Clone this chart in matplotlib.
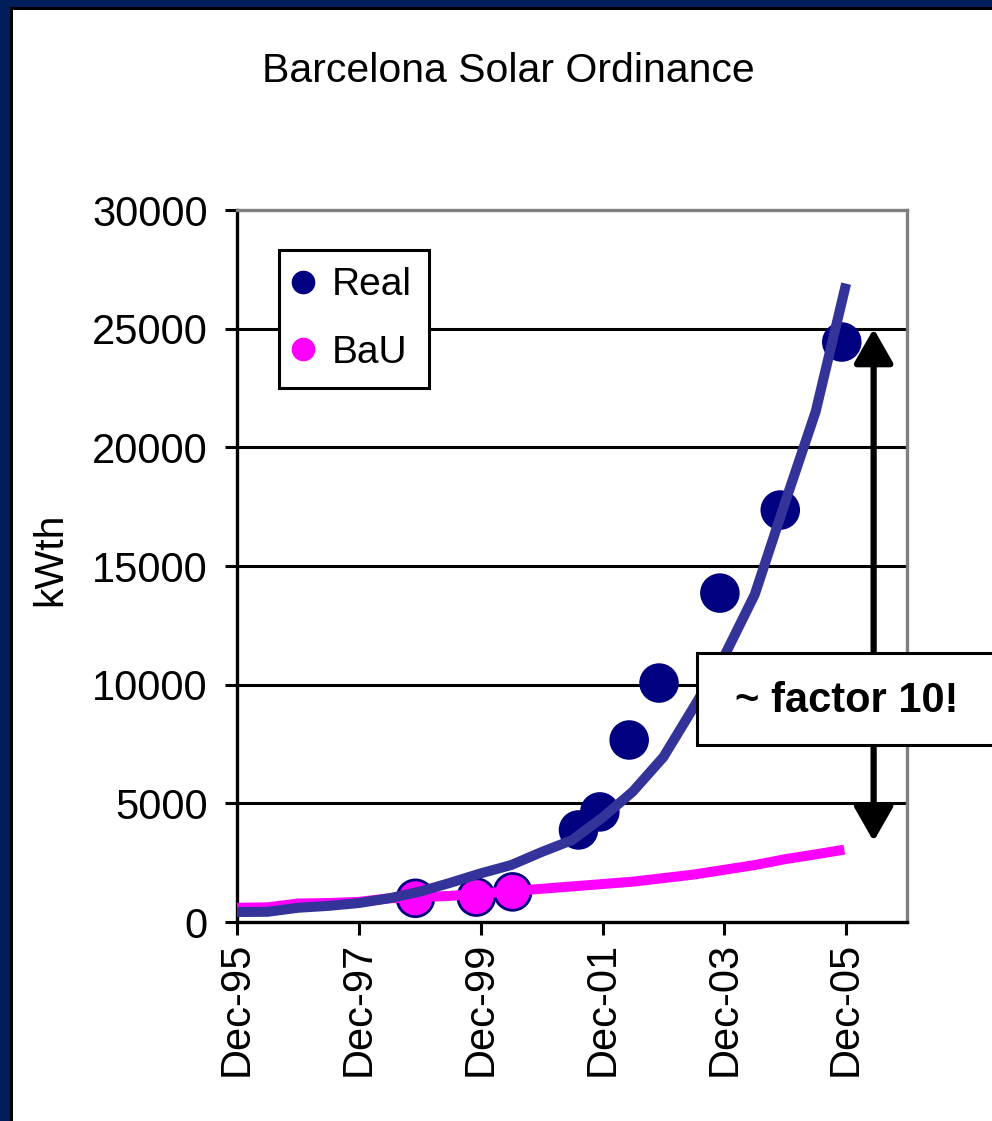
from datetime import datetime

import matplotlib
matplotlib.use("Agg")
import matplotlib.pyplot as plt
import matplotlib.dates as mdates
from matplotlib.lines import Line2D
from matplotlib.patches import Rectangle

plt.rcParams["font.family"] = ["Liberation Sans", "DejaVu Sans"]

# measured installations (kWth)
real_dates = ["1998-11-05", "1999-11-05", "2000-06-10", "2001-07-10", "2001-11-15",
              "2002-05-10", "2002-11-05", "2003-11-05", "2004-11-01", "2005-11-05"]
real_values = [1000, 1050, 1270, 3880, 4640, 7670, 10070, 13860, 17360, 24440]
# the first three points sit on the BaU curve
real_faces = ["#ff00ff", "#ff00ff", "#ff00ff"] + ["#000080"] * 7

# trend of the real installations
trend_dates = ["1995-12-01", "1996-06-01", "1996-12-01", "1997-06-01", "1997-12-01",
               "1998-06-01", "1998-12-01", "1999-06-01", "1999-12-01", "2000-06-01",
               "2000-12-01", "2001-06-01", "2001-12-01", "2002-06-01", "2002-12-01",
               "2003-06-01", "2003-12-01", "2004-06-01", "2004-12-01", "2005-06-01",
               "2005-12-01"]
trend_values = [420, 430, 600, 680, 800, 1000, 1280, 1650, 2050, 2400, 2950, 3450,
                4400, 5500, 6950, 9050, 11200, 13800, 17700, 21500, 26900]

# business as usual
bau_dates = ["1995-12-01", "1996-06-01", "1996-12-01", "1997-06-01", "1997-12-01",
             "1998-06-01", "1998-12-01", "1999-06-01", "1999-12-01", "2000-06-01",
             "2000-12-01", "2001-06-01", "2001-12-01", "2002-06-01", "2002-12-01",
             "2003-06-01", "2003-12-01", "2004-06-01", "2004-12-01", "2005-06-01",
             "2005-11-20"]
bau_values = [600, 620, 780, 800, 850, 1000, 1050, 1100, 1200, 1300, 1400, 1500,
              1600, 1700, 1850, 2000, 2200, 2400, 2650, 2850, 3050]

tick_dates = ["1995-12-01", "1997-12-01", "1999-12-01", "2001-12-01", "2003-12-01",
              "2005-12-01"]
y_ticks = [0, 5000, 10000, 15000, 20000, 25000, 30000]

arrow_date = "2006-05-15"
arrow_top = 25000
arrow_bottom = 3400


def to_dt(values):
    return [datetime.strptime(v, "%Y-%m-%d") for v in values]


fig = plt.figure(figsize=(9.92, 11.21), dpi=100)
ax = fig.add_axes([0.2389, 0.1775, 0.6754, 0.6351])

for y in y_ticks[1:-1]:
    ax.axhline(y, color="black", lw=2.2, zorder=1)

ax.scatter(to_dt(real_dates), real_values, s=700, c=real_faces,
           edgecolors="#000080", linewidths=2, zorder=3)
ax.plot(to_dt(bau_dates), bau_values, color="#ff00ff", lw=7.2, zorder=4,
        solid_capstyle="butt")
ax.plot(to_dt(trend_dates), trend_values, color="#333399", lw=7.2, zorder=5,
        solid_capstyle="butt")

ax.annotate("", xy=(to_dt([arrow_date])[0], arrow_top),
            xytext=(to_dt([arrow_date])[0], arrow_bottom),
            arrowprops=dict(arrowstyle="<|-|>,head_length=0.7,head_width=0.4",
                            lw=4.5, color="black", mutation_scale=30,
                            shrinkA=0, shrinkB=0),
            zorder=6)

ax.set_xlim(datetime(1995, 12, 1), datetime(2006, 12, 1))
ax.set_ylim(0, 30000)
ax.set_yticks(y_ticks)
ax.set_xticks(to_dt(tick_dates))
ax.xaxis.set_major_formatter(mdates.DateFormatter("%b-%y"))
ax.tick_params(axis="y", labelsize=30, length=9, width=2.2, pad=12)
ax.tick_params(axis="x", labelsize=30, length=9, width=2.2, pad=5, labelrotation=90)
ax.set_ylabel("kWth", fontsize=29.5, labelpad=16, y=0.509)

for side in ("left", "bottom"):
    ax.spines[side].set_color("black")
    ax.spines[side].set_linewidth(2.4)
for side in ("top", "right"):
    ax.spines[side].set_color("#808080")
    ax.spines[side].set_linewidth(2.4)

handles = [Line2D([], [], ls="none", marker="o", markersize=16, color="#000080"),
           Line2D([], [], ls="none", marker="o", markersize=16, color="#ff00ff")]
leg = ax.legend(handles, ["Real", "BaU"], loc="upper left",
                bbox_to_anchor=(0.0627, 0.944), borderaxespad=0, fontsize=28,
                fancybox=False, framealpha=1, edgecolor="black",
                handletextpad=0.55, handlelength=0.35, borderpad=0.45,
                labelspacing=0.8)
leg.get_frame().set_linewidth(2.2)
leg.set_zorder(10)

fig.text(0.5126, 0.9365, "Barcelona Solar Ordinance", fontsize=29.5,
         ha="center", va="center")

# callout box
fig.patches.append(Rectangle((0.7026, 0.3354), 0.32, 0.0821, transform=fig.transFigure,
                             facecolor="white", edgecolor="black", lw=2.2,
                             zorder=7, clip_on=False))
fig.text(0.854, 0.3745, "~ factor 10!", fontsize=30, fontweight="bold",
         ha="center", va="center", zorder=8)

# slide frame
w, h = 992.0, 1121.0
fig.patches.append(Rectangle((0, 1 - 7 / h), 1, 7 / h, transform=fig.transFigure,
                             facecolor="#001e5a", lw=0, zorder=9))
fig.patches.append(Rectangle((0, 0), 10 / w, 1, transform=fig.transFigure,
                             facecolor="#001e5a", lw=0, zorder=9))
fig.patches.append(Rectangle((10 / w, 1 - 10 / h), 1, 3 / h, transform=fig.transFigure,
                             facecolor="black", lw=0, zorder=9))
fig.patches.append(Rectangle((10 / w, 0), 3 / w, 1 - 7 / h, transform=fig.transFigure,
                             facecolor="black", lw=0, zorder=9))

fig.savefig("out.png", dpi=100)
